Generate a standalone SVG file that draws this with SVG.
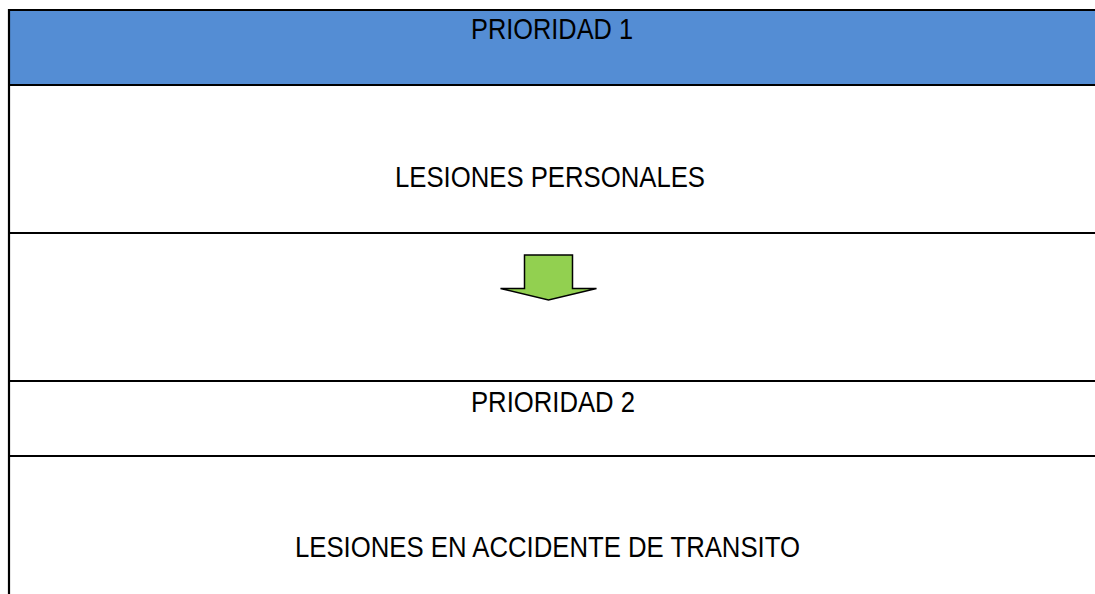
<svg xmlns="http://www.w3.org/2000/svg" width="1095" height="594" viewBox="0 0 1095 594">
<style>
.line{stroke:#000;stroke-width:2.2;fill:none}
.lbl{font-family:"Liberation Sans",Arial,sans-serif;font-size:30px;fill:#000;text-anchor:middle}
</style>
<rect x="0" y="0" width="1095" height="594" fill="#fff"/>
<g id="header1">
<rect x="9" y="10" width="1086" height="75" fill="#548DD4"/>
<text class="lbl" x="552" y="39.3" textLength="162" lengthAdjust="spacingAndGlyphs">PRIORIDAD 1</text>
</g>
<g id="node1">
<text class="lbl" x="550" y="186.7" textLength="310" lengthAdjust="spacingAndGlyphs">LESIONES PERSONALES</text>
</g>
<g id="header2">
<text class="lbl" x="553" y="411.7" textLength="164" lengthAdjust="spacingAndGlyphs">PRIORIDAD 2</text>
</g>
<g id="node2">
<text class="lbl" x="547.5" y="556.7" textLength="505" lengthAdjust="spacingAndGlyphs">LESIONES EN ACCIDENTE DE TRANSITO</text>
</g>
<g id="grid">
<line class="line" x1="9" y1="10" x2="1095" y2="10"/>
<line class="line" x1="9" y1="85" x2="1095" y2="85"/>
<line class="line" x1="9" y1="233" x2="1095" y2="233"/>
<line class="line" x1="9" y1="381" x2="1095" y2="381"/>
<line class="line" x1="9" y1="456" x2="1095" y2="456"/>
<line class="line" x1="9" y1="9" x2="9" y2="594"/>
</g>
<g id="connectors">
<path d="M524.5,255 L572.5,255 L572.5,288.5 L596.5,288.5 L548.5,300 L500.5,288.5 L524.5,288.5 Z" fill="#92D050" stroke="#000" stroke-width="1.5" stroke-linejoin="miter"/>
</g>
</svg>
